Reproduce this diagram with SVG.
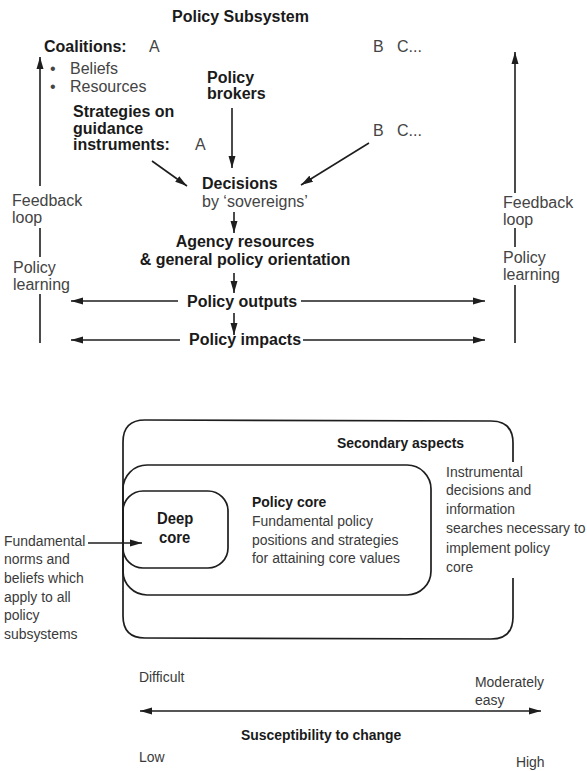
<svg xmlns="http://www.w3.org/2000/svg" width="587" height="771" viewBox="0 0 587 771">
<style>
text{font-family:"Liberation Sans",Arial,sans-serif;}
.t{font-size:16px;fill:#444;}
.tb{font-size:16px;font-weight:bold;fill:#1a1a1a;}
.s{font-size:15.5px;fill:#3a3a3a;}
.sb{font-size:15.5px;font-weight:bold;fill:#1a1a1a;}
.ln{stroke:#1e1e1e;stroke-width:1.6;fill:none;}
.box{stroke:#1e1e1e;stroke-width:1.7;fill:none;}
.arr{stroke:#1e1e1e;stroke-width:1.6;fill:none;marker-end:url(#ah);}
.arr2{stroke:#1e1e1e;stroke-width:1.6;fill:none;marker-end:url(#ah);marker-start:url(#ahs);}
</style>
<defs>
<marker id="ah" viewBox="0 0 12 8" refX="12" refY="4" markerWidth="12" markerHeight="8" markerUnits="userSpaceOnUse" orient="auto">
<path d="M0,0.5 L12,4 L0,7.5 Z" fill="#1e1e1e"/>
</marker>
<marker id="ahs" viewBox="0 0 12 8" refX="0" refY="4" markerWidth="12" markerHeight="8" markerUnits="userSpaceOnUse" orient="auto">
<path d="M12,0.5 L0,4 L12,7.5 Z" fill="#1e1e1e"/>
</marker>
</defs>
<rect width="587" height="771" fill="#ffffff"/>

<g id="title"><text class="tb" x="172" y="22">Policy Subsystem</text></g>
<g id="coalitions">
<text class="tb" x="44" y="52">Coalitions:</text>
<text class="t" x="149" y="52">A</text>
<text class="t" x="50" y="74">•</text><text class="t" x="70" y="74">Beliefs</text>
<text class="t" x="50" y="92">•</text><text class="t" x="70" y="92">Resources</text>
</g>
<g id="coalitions-bc"><text class="t" x="373" y="52">B</text><text class="t" x="397" y="52">C...</text></g>
<g id="brokers"><text class="tb" x="207" y="83">Policy</text><text class="tb" x="207" y="99">brokers</text></g>
<g id="strategies">
<text class="tb" x="73" y="117">Strategies on</text>
<text class="tb" x="73" y="134">guidance</text>
<text class="tb" x="73" y="150">instruments:</text>
<text class="t" x="195" y="150">A</text>
</g>
<g id="strategies-bc"><text class="t" x="373" y="136">B</text><text class="t" x="397" y="136">C...</text></g>
<g id="decisions"><text class="tb" x="202" y="189">Decisions</text><text class="t" x="202" y="207">by ‘sovereigns’</text></g>
<g id="agency"><text class="tb" x="245" y="247" text-anchor="middle">Agency resources</text><text class="tb" x="245" y="265" text-anchor="middle">&amp; general policy orientation</text></g>
<g id="outputs"><text class="tb" x="187" y="307">Policy outputs</text></g>
<g id="impacts"><text class="tb" x="189" y="345">Policy impacts</text></g>
<g id="feedback-left"><text class="t" x="12" y="206">Feedback</text><text class="t" x="12" y="223">loop</text><text class="t" x="13" y="273">Policy</text><text class="t" x="13" y="290">learning</text></g>
<g id="feedback-right"><text class="t" x="503" y="208">Feedback</text><text class="t" x="503" y="225">loop</text><text class="t" x="503" y="263">Policy</text><text class="t" x="503" y="280">learning</text></g>

<g id="connectors">
<line class="arr" x1="40" y1="186" x2="40" y2="57"/>
<line class="ln" x1="40" y1="228" x2="40" y2="257"/>
<line class="ln" x1="40" y1="294" x2="40" y2="343"/>
<line class="arr" x1="515" y1="193" x2="515" y2="52"/>
<line class="ln" x1="515" y1="228" x2="515" y2="247"/>
<line class="ln" x1="515" y1="285" x2="515" y2="343"/>
<line class="arr" x1="232" y1="108" x2="232" y2="168"/>
<line class="arr" x1="152" y1="161" x2="187" y2="186"/>
<line class="arr" x1="369" y1="143" x2="301" y2="185"/>
<line class="arr" x1="234" y1="212" x2="234" y2="233"/>
<line class="arr" x1="234" y1="273" x2="234" y2="293"/>
<line class="arr" x1="234" y1="313" x2="234" y2="335"/>
<line class="arr" x1="178" y1="301" x2="71" y2="301"/>
<line class="arr" x1="301" y1="301" x2="485" y2="301"/>
<line class="arr" x1="180" y1="340" x2="71" y2="340"/>
<line class="arr" x1="303" y1="340" x2="485" y2="340"/>
<line class="arr" x1="88" y1="543" x2="142" y2="543"/>
<line class="arr2" x1="140" y1="711" x2="541" y2="711"/>
</g>

<g id="secondary-aspects">
<path class="box" d="M513,462 L513,443 Q513,421 491,421 L145,420 Q123,420 123,442 L123,616 Q123,638 145,638 L491,639 Q513,639 513,617 L513,578"/>
<text class="sb" transform="scale(0.9,1)" x="374.4" y="448">Secondary aspects</text>
</g>
<g id="policy-core">
<rect class="box" x="123" y="465" width="308" height="130" rx="24" ry="24"/>
<g transform="scale(0.9,1)">
<text class="sb" x="280" y="507">Policy core</text>
<text class="s" x="280" y="526">Fundamental policy</text>
<text class="s" x="280" y="545">positions and strategies</text>
<text class="s" x="280" y="563">for attaining core values</text>
</g>
</g>
<g id="deep-core">
<rect class="box" x="123" y="491" width="105" height="77" rx="20" ry="20"/>
<g transform="scale(0.9,1)">
<text class="sb" x="174.4" y="524" style="font-size:16.5px">Deep</text>
<text class="sb" x="176.7" y="543" style="font-size:16.5px">core</text>
</g>
</g>
<g id="instrumental" transform="scale(0.9,1)">
<text class="s" x="495.6" y="477">Instrumental</text>
<text class="s" x="495.6" y="495">decisions and</text>
<text class="s" x="495.6" y="514">information</text>
<text class="s" x="495.6" y="533">searches necessary to</text>
<text class="s" x="495.6" y="553">implement policy</text>
<text class="s" x="495.6" y="572">core</text>
</g>
<g id="fundamental-norms" transform="scale(0.9,1)">
<text class="s" x="4.4" y="546">Fundamental</text>
<text class="s" x="4.4" y="564">norms and</text>
<text class="s" x="4.4" y="583">beliefs which</text>
<text class="s" x="4.4" y="602">apply to all</text>
<text class="s" x="4.4" y="620">policy</text>
<text class="s" x="4.4" y="639">subsystems</text>
</g>
<g id="scale" transform="scale(0.9,1)">
<text class="s" x="154.4" y="682">Difficult</text>
<text class="s" x="527.8" y="687">Moderately</text>
<text class="s" x="527.8" y="705">easy</text>
<text class="sb" x="267.8" y="740">Susceptibility to change</text>
<text class="s" x="154.4" y="762">Low</text>
<text class="s" x="573.3" y="767">High</text>
</g>
</svg>
